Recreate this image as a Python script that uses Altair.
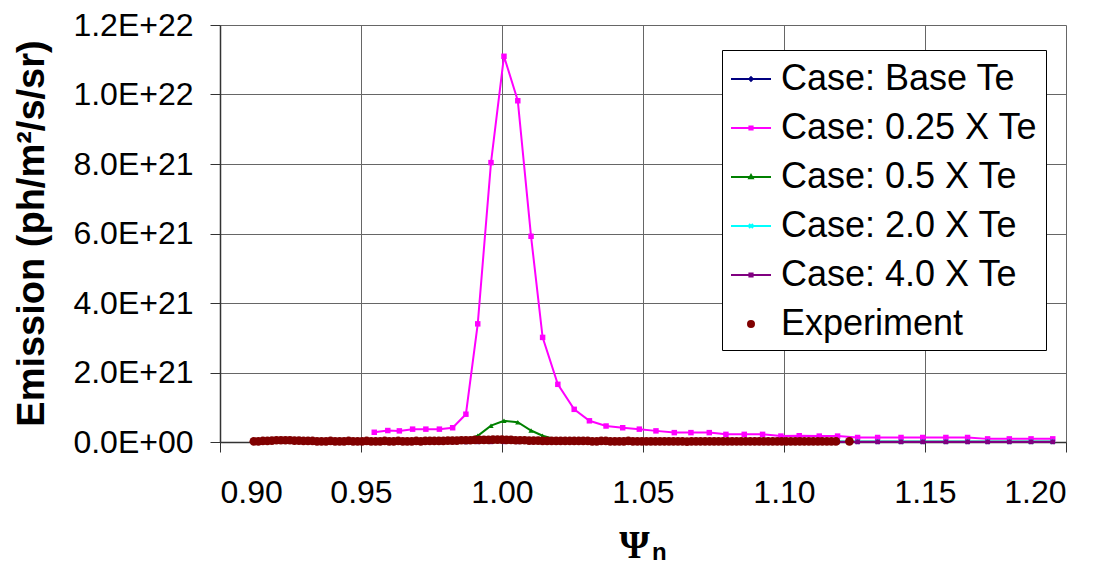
import altair as alt
import pandas as pd

# ---------------- data (emission in units of 1e21 ph/m^2/s/sr) ----------------
UNIT = 1e21

psi_model = [0.9547, 0.9595, 0.9636, 0.9683, 0.9730, 0.9778, 0.9825, 0.9872, 0.9914, 0.9961,
             1.0007, 1.0056, 1.0103, 1.0144, 1.0198, 1.0256, 1.0310, 1.0369, 1.0428, 1.0487,
             1.0546, 1.0611, 1.0670, 1.0735, 1.0794, 1.0859, 1.0924, 1.0989, 1.1054, 1.1125,
             1.1190, 1.1261, 1.1332, 1.1415, 1.1492, 1.1574, 1.1651, 1.1722, 1.1799, 1.1876,
             1.1953]

base_te = [0.01, 0.01, 0.01, 0.01, 0.01, 0.01, 0.02, 0.02, 0.03, 0.05,
           0.06, 0.05, 0.04, 0.03, 0.02, 0.02, 0.01, 0.01, 0.01, 0.01,
           0.01, 0.01, 0.01, 0.01, 0.01, 0.01, 0.01, 0.01, 0.01, 0.01,
           0.01, 0.01, 0.01, 0.01, 0.01, 0.01, 0.01, 0.01, 0.01, 0.01,
           0.01]

te_025 = [0.28, 0.33, 0.32, 0.37, 0.37, 0.37, 0.41, 0.80, 3.40, 8.04,
          11.10, 9.82, 5.92, 3.01, 1.66, 0.94, 0.61, 0.46, 0.41, 0.37,
          0.32, 0.27, 0.27, 0.27, 0.22, 0.22, 0.22, 0.17, 0.18, 0.17,
          0.17, 0.13, 0.13, 0.13, 0.13, 0.13, 0.13, 0.09, 0.09, 0.09,
          0.09]

te_05 = [0.01, 0.01, 0.01, 0.01, 0.02, 0.02, 0.03, 0.05, 0.18, 0.47,
         0.61, 0.57, 0.33, 0.18, 0.06, 0.03, 0.02, 0.02, 0.02, 0.01,
         0.01, 0.01, 0.01, 0.01, 0.01, 0.01, 0.01, 0.01, 0.01, 0.01,
         0.01, 0.01, 0.01, 0.01, 0.01, 0.01, 0.01, 0.01, 0.01, 0.01,
         0.01]

te_20 = [0.005, 0.005, 0.005, 0.005, 0.005, 0.005, 0.005, 0.005, 0.01, 0.01,
         0.01, 0.01, 0.01, 0.005, 0.005, 0.005, 0.005, 0.005, 0.005, 0.005,
         0.005, 0.005, 0.005, 0.005, 0.005, 0.005, 0.005, 0.005, 0.005, 0.005,
         0.005, 0.005, 0.005, 0.005, 0.005, 0.005, 0.005, 0.005, 0.005, 0.005,
         0.005]

te_40 = [0.003, 0.003, 0.003, 0.003, 0.003, 0.003, 0.003, 0.003, 0.005, 0.005,
         0.005, 0.005, 0.005, 0.003, 0.003, 0.003, 0.003, 0.003, 0.003, 0.003,
         0.003, 0.003, 0.003, 0.003, 0.003, 0.003, 0.003, 0.003, 0.003, 0.003,
         0.003, 0.003, 0.003, 0.003, 0.003, 0.003, 0.003, 0.003, 0.003, 0.003,
         0.003]

exp_psi = [0.9120, 0.9136, 0.9152, 0.9168, 0.9184, 0.9200, 0.9216, 0.9232, 0.9248, 0.9264,
           0.9280, 0.9296, 0.9312, 0.9328, 0.9344, 0.9360, 0.9376, 0.9392, 0.9408, 0.9424,
           0.9440, 0.9456, 0.9472, 0.9488, 0.9504, 0.9520, 0.9536, 0.9552, 0.9568, 0.9584,
           0.9600, 0.9616, 0.9632, 0.9648, 0.9664, 0.9680, 0.9696, 0.9712, 0.9728, 0.9744,
           0.9760, 0.9776, 0.9792, 0.9808, 0.9824, 0.9840, 0.9856, 0.9872, 0.9888, 0.9904,
           0.9920, 0.9936, 0.9952, 0.9968, 0.9984, 1.0000, 1.0016, 1.0032, 1.0048, 1.0064,
           1.0080, 1.0096, 1.0112, 1.0128, 1.0144, 1.0160, 1.0176, 1.0192, 1.0208, 1.0224,
           1.0240, 1.0256, 1.0272, 1.0288, 1.0304, 1.0320, 1.0336, 1.0352, 1.0368, 1.0384,
           1.0400, 1.0416, 1.0432, 1.0448, 1.0464, 1.0480, 1.0496, 1.0512, 1.0528, 1.0544,
           1.0560, 1.0576, 1.0592, 1.0608, 1.0624, 1.0640, 1.0656, 1.0672, 1.0688, 1.0704,
           1.0720, 1.0736, 1.0752, 1.0768, 1.0784, 1.0800, 1.0816, 1.0832, 1.0848, 1.0864,
           1.0880, 1.0896, 1.0912, 1.0928, 1.0944, 1.0960, 1.0976, 1.0992, 1.1008, 1.1024,
           1.1040, 1.1056, 1.1072, 1.1088, 1.1104, 1.1120, 1.1136, 1.1152, 1.1168, 1.1184,
           1.1232]

exp_val = [0.02, 0.02, 0.03, 0.03, 0.04, 0.05, 0.05, 0.05, 0.05, 0.04,
           0.04, 0.03, 0.03, 0.03, 0.02, 0.02, 0.02, 0.03, 0.02, 0.02,
           0.02, 0.03, 0.02, 0.02, 0.02, 0.03, 0.02, 0.02, 0.02, 0.03,
           0.02, 0.02, 0.03, 0.02, 0.02, 0.02, 0.03, 0.02, 0.03, 0.03,
           0.03, 0.03, 0.03, 0.04, 0.04, 0.04, 0.05, 0.05, 0.05, 0.06,
           0.06, 0.06, 0.06, 0.07, 0.07, 0.07, 0.06, 0.06, 0.05, 0.05,
           0.05, 0.04, 0.04, 0.04, 0.03, 0.03, 0.03, 0.03, 0.03, 0.03,
           0.03, 0.03, 0.03, 0.03, 0.03, 0.02, 0.02, 0.03, 0.03, 0.02,
           0.02, 0.02, 0.02, 0.03, 0.02, 0.02, 0.02, 0.02, 0.02, 0.02,
           0.02, 0.02, 0.02, 0.02, 0.02, 0.02, 0.01, 0.02, 0.02, 0.02,
           0.02, 0.02, 0.02, 0.02, 0.02, 0.02, 0.02, 0.02, 0.02, 0.02,
           0.02, 0.02, 0.02, 0.02, 0.02, 0.02, 0.02, 0.02, 0.02, 0.02,
           0.02, 0.02, 0.02, 0.02, 0.02, 0.02, 0.02, 0.02, 0.02, 0.02,
           0.02]

series_names = ["Case: Base Te", "Case: 0.25 X Te", "Case: 0.5 X Te",
                "Case: 2.0 X Te", "Case: 4.0 X Te", "Experiment"]
series_colors = ["#000080", "#FF00FF", "#008000", "#00FFFF", "#800080", "#800000"]

x_ticks = [0.90, 0.95, 1.00, 1.05, 1.10, 1.15, 1.20]
y_ticks = [0, 2e21, 4e21, 6e21, 8e21, 1e22, 1.2e22]

# ---------------- styling ----------------
model_values = [base_te, te_025, te_05, te_20, te_40]
model_markers = [
    dict(shape="diamond", size=16),
    dict(shape="square", size=30),
    dict(shape="triangle-up", size=28),
    dict(shape="cross", size=30, angle=45),
    dict(shape="square", size=22),
]
legend_paths = [
    "M-1,0L1,0M0,-0.09L0.09,0L0,0.09L-0.09,0Z",
    "M-1,0L1,0M-0.08,-0.08L0.08,-0.08L0.08,0.08L-0.08,0.08Z",
    "M-1,0L1,0M0,-0.1L0.09,0.06L-0.09,0.06Z",
    "M-1,0L1,0M-0.1,-0.1L0.1,0.1M-0.1,0.1L0.1,-0.1",
    "M-1,0L1,0M-0.08,-0.08L0.08,-0.08L0.08,0.08L-0.08,0.08Z",
    "M0.15,0A0.15,0.15 0 1,1 -0.15,0A0.15,0.15 0 1,1 0.15,0ZM0.05,0A0.05,0.05 0 1,1 -0.05,0A0.05,0.05 0 1,1 0.05,0Z",
]

x_enc = alt.X(
    "psi:Q",
    scale=alt.Scale(domain=[0.9, 1.2], nice=False, zero=False),
    axis=alt.Axis(
        values=x_ticks, format=".2f", labelFontSize=32, labelPadding=25,
        tickSize=10, grid=True,
        title="Ψ", titleFont="Liberation Serif", titleFontSize=39,
        titleFontWeight="bold", titleX=414, titleY=115,
        titleBaseline="alphabetic", titleAlign="center",
    ),
)
y_label_expr = ("datum.value == 0 ? '0.0E+00' : "
                "format(datum.value / pow(10, floor(log(datum.value) / LN10 + 1e-9)), '.1f')"
                " + 'E+' + floor(log(datum.value) / LN10 + 1e-9)")
y_enc = alt.Y(
    "emission:Q",
    scale=alt.Scale(domain=[0, 1.2e22], nice=False),
    axis=alt.Axis(
        values=y_ticks, labelExpr=y_label_expr, labelFontSize=32, labelPadding=17,
        tickSize=10, grid=True,
        title="Emission (ph/m²/s/sr)", titleFontSize=38, titleFontWeight="bold",
        titleX=-177, titleY=208, titleAngle=-90,
        titleBaseline="alphabetic", titleAlign="center",
    ),
)

layers = []
for name, color, vals, mk in zip(series_names[:5], series_colors[:5], model_values, model_markers):
    df = pd.DataFrame({"psi": psi_model,
                       "emission": [v * UNIT for v in vals],
                       "series": name})
    base = alt.Chart(df)
    layers.append(base.mark_line(strokeWidth=2, color=color).encode(x=x_enc, y=y_enc))
    layers.append(base.mark_point(filled=True, opacity=1, color=color, **mk).encode(x=x_enc, y=y_enc))

exp_df = pd.DataFrame({"psi": exp_psi,
                       "emission": [v * UNIT for v in exp_val],
                       "series": "Experiment"})
layers.append(alt.Chart(exp_df).mark_circle(size=76, opacity=1, color=series_colors[5]).encode(
    x=x_enc, y=y_enc))

# legend-only layer (points lie outside the x domain and are clipped)
legend_props = dict(
    title=None, orient="none", legendX=502, legendY=25, padding=8,
    strokeColor="black", fillColor="white", labelFont="Liberation Sans",
    labelFontSize=36, labelColor="black", symbolSize=1600, symbolStrokeWidth=2,
    labelOffset=9, rowPadding=10, labelLimit=500,
)
leg_df = pd.DataFrame({"psi": [0.5] * 6, "emission": [0.0] * 6, "series": series_names})
layers.append(alt.Chart(leg_df).mark_point(filled=False, strokeWidth=2, clip=True, opacity=1).encode(
    x=x_enc, y=y_enc,
    color=alt.Color("series:N", scale=alt.Scale(domain=series_names, range=series_colors),
                    legend=alt.Legend(**legend_props)),
    shape=alt.Shape("series:N", scale=alt.Scale(domain=series_names, range=legend_paths),
                    legend=alt.Legend(**legend_props)),
))

# subscript "n" of the x-axis title
sub_df = pd.DataFrame({"t": ["n"]})
layers.append(alt.Chart(sub_df).mark_text(
    text="n", font="Liberation Sans", fontSize=24, fontWeight="bold",
    align="left", baseline="alphabetic", color="black").encode(
    x=alt.value(432), y=alt.value(535)))

chart = alt.layer(*layers).properties(
    width=846, height=417,
    autosize=alt.AutoSizeParams(type="none"),
    padding={"left": 212, "top": 17, "right": 20, "bottom": 124},
).configure(
    font="Liberation Sans",
).configure_view(
    stroke=None,
).configure_axis(
    labelColor="black", titleColor="black", labelFont="Liberation Sans",
    titleFont="Liberation Sans", domainColor="#333333", tickColor="#333333",
    gridColor="#666666", gridOpacity=1, domainWidth=1.5, tickWidth=1,
)

chart.save("out.html", embed_options={"renderer": "svg", "actions": False})
